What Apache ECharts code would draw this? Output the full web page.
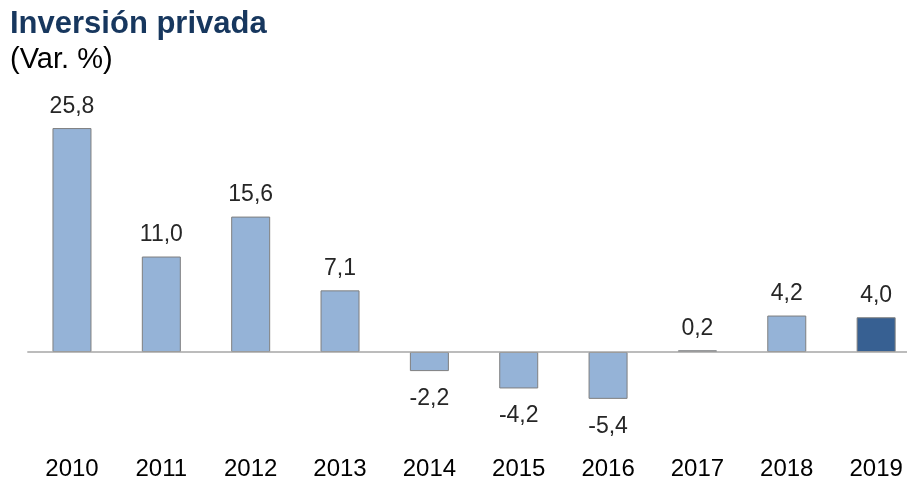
<!DOCTYPE html>
<html><head><meta charset="utf-8">
<script src="https://cdn.jsdelivr.net/npm/echarts@6/dist/echarts.min.js"></script>
<style>html,body{margin:0;padding:0;background:#fff}#c{width:907px;height:480px}</style>
</head><body><div id="c"></div>
<script>
const title = "Inversión privada";
const subtitle = "(Var. %)";
const categories = ["2010","2011","2012","2013","2014","2015","2016","2017","2018","2019"];
const values = [25.8, 11.0, 15.6, 7.1, -2.2, -4.2, -5.4, 0.2, 4.2, 4.0];
const highlightIndex = 9;

const fmt = v => v.toFixed(1).replace('.', ',');
const data = values.map((v, i) => ({
  value: v,
  itemStyle: { color: i === highlightIndex ? '#376092' : '#95b3d7' },
  label: { position: v < 0 ? 'bottom' : 'top', distance: v < 0 ? 16 : 10 }
}));

const chart = echarts.init(document.getElementById('c'), null, {renderer: 'canvas'});
chart.setOption({
  animation: false,
  title: [
    { text: title, left: 10, top: 9, padding: 0, textStyle: { fontFamily: 'Liberation Sans, Arial', fontSize: 31, fontWeight: 'bold', color: '#17375e' } },
    { text: subtitle, left: 10, top: 45, padding: 0, textStyle: { fontFamily: 'Liberation Sans, Arial', fontSize: 29, fontWeight: 'normal', color: '#000' } }
  ],
  grid: { left: 27.3, width: 893.5, top: 91.6, bottom: 41.2, containLabel: false, outerBoundsMode: 'none' },
  xAxis: [{
    type: 'category', data: categories,
    axisLine: { show: false, onZero: false }, axisTick: { show: false },
    axisLabel: { fontFamily: 'Liberation Sans, Arial', fontSize: 24, color: '#000', margin: 19 }
  }],
  yAxis: { type: 'value', min: -10, max: 30, show: false, splitLine: { show: false } },
  series: [{
    type: 'bar', data: data, barWidth: 39,
    itemStyle: { borderColor: '#7f7f7f', borderWidth: 1 },
    label: { show: true, fontFamily: 'Liberation Sans, Arial', fontSize: 23, color: '#262626', formatter: p => fmt(p.value) },
    markLine: {
      silent: true, symbol: 'none', label: { show: false },
      lineStyle: { color: '#a6a6a6', width: 1.5, type: 'solid' },
      data: [{ yAxis: 0 }]
    },
    z: 3
  }]
});
</script></body></html>
